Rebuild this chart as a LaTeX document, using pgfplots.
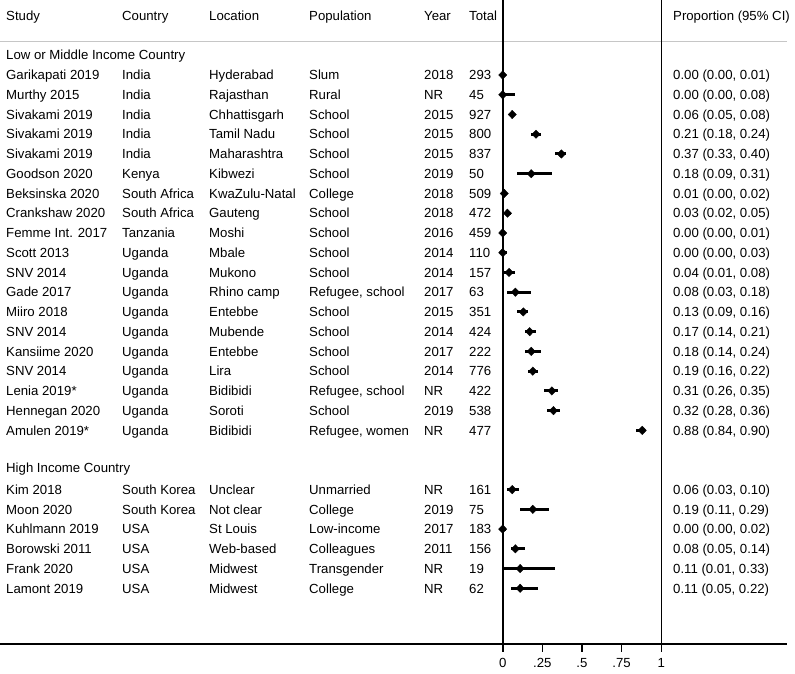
\documentclass[border=0pt]{standalone}
\usepackage{fontspec}
\setmainfont{Liberation Sans}
\usepackage{pgfplots}
\usepackage{pgfplotstable}
\pgfplotsset{compat=1.18}

% estimate, lower, upper, row (row = minus line index)
\pgfplotstableread{
est  lo   hi   row
0.00 0.00 0.01 0
0.00 0.00 0.08 -1
0.06 0.05 0.08 -2
0.21 0.18 0.24 -3
0.37 0.33 0.40 -4
0.18 0.09 0.31 -5
0.01 0.00 0.02 -6
0.03 0.02 0.05 -7
0.00 0.00 0.01 -8
0.00 0.00 0.03 -9
0.04 0.01 0.08 -10
0.08 0.03 0.18 -11
0.13 0.09 0.16 -12
0.17 0.14 0.21 -13
0.18 0.14 0.24 -14
0.19 0.16 0.22 -15
0.31 0.26 0.35 -16
0.32 0.28 0.36 -17
0.88 0.84 0.90 -18
}\lmic

\pgfplotstableread{
est  lo   hi   row
0.06 0.03 0.10 -21
0.19 0.11 0.29 -22
0.00 0.00 0.02 -23
0.08 0.05 0.14 -24
0.11 0.01 0.33 -25
0.11 0.05 0.22 -26
}\hic

\newcommand{\fs}{\fontsize{13.2}{15}\selectfont}

\begin{document}
\begin{tikzpicture}[cell/.style={anchor=west, font=\fs, text height=9.45pt, text depth=0pt, inner sep=0pt}]
\useasboundingbox (0,-30pt) rectangle (795pt,644pt);

% header rule
\draw[gray!45, line width=1.6pt] (0,602.5pt) -- (786.7pt,602.5pt);

\begin{axis}[
	at={(0,0)}, anchor=south west,
	scale only axis,
	width=786.7pt, height=644pt,
	xmin=-3.170, xmax=1.791,
	ymin=-28.82, ymax=3.80,
	axis x line*=bottom,
	axis y line=none,
	x axis line style={line width=1.6pt, -},
	xtick={0,0.25,0.5,0.75,1},
	xticklabels={0,.25,.5,.75,1},
	xticklabel style={font=\fs, yshift=-11pt},
	major tick length=0pt,
	clip=false]

	\addplot[only marks, black, mark=diamond*, mark size=4.2pt,
		mark options={xscale=1.3},
		error bars/.cd, x dir=both, x explicit, error mark=none,
		error bar style={line width=3pt, black}]
		table[x=est, y=row,
			x error plus expr=\thisrow{hi}-\thisrow{est},
			x error minus expr=\thisrow{est}-\thisrow{lo}] {\lmic};

	\addplot[only marks, black, mark=diamond*, mark size=4.2pt,
		mark options={xscale=1.3},
		error bars/.cd, x dir=both, x explicit, error mark=none,
		error bar style={line width=3pt, black}]
		table[x=est, y=row,
			x error plus expr=\thisrow{hi}-\thisrow{est},
			x error minus expr=\thisrow{est}-\thisrow{lo}] {\hic};
\end{axis}

% reference lines at 0 and 1, running down into the tick marks
\draw[line width=1.6pt, black] (502.7pt,-8pt) -- (502.7pt,644pt);
\draw[line width=1.6pt, black] (661.3pt,-8pt) -- (661.3pt,644pt);

% tick marks below the axis line (x = 0 sits at 502.7pt, 158.58pt per unit)
\foreach \tx in {542.35,581.99,621.64}{
	\draw[line width=1.6pt, black] (\tx pt,0.8pt) -- (\tx pt,-8pt);
}

% column headers
\node[cell] at (6pt,628pt) {Study};
\node[cell] at (122pt,628pt) {Country};
\node[cell] at (209pt,628pt) {Location};
\node[cell] at (309pt,628pt) {Population};
\node[cell] at (424pt,628pt) {Year};
\node[cell] at (469pt,628pt) {Total};
\node[cell] at (673pt,628pt) {Proportion (95\% CI)};

% subgroup headings
\node[cell] at (6pt,589pt) {Low or Middle Income Country};
\node[cell] at (6pt,176.7pt) {High Income Country};

% study rows
\foreach \k/\st/\co/\lo/\po/\yr/\to/\ci in {
	0/Garikapati 2019/India/Hyderabad/Slum/2018/293/{0.00 (0.00, 0.01)},
	1/Murthy 2015/India/Rajasthan/Rural/NR/45/{0.00 (0.00, 0.08)},
	2/Sivakami 2019/India/Chhattisgarh/School/2015/927/{0.06 (0.05, 0.08)},
	3/Sivakami 2019/India/Tamil Nadu/School/2015/800/{0.21 (0.18, 0.24)},
	4/Sivakami 2019/India/Maharashtra/School/2015/837/{0.37 (0.33, 0.40)},
	5/Goodson 2020/Kenya/Kibwezi/School/2019/50/{0.18 (0.09, 0.31)},
	6/Beksinska 2020/South Africa/KwaZulu-Natal/College/2018/509/{0.01 (0.00, 0.02)},
	7/Crankshaw 2020/South Africa/Gauteng/School/2018/472/{0.03 (0.02, 0.05)},
	8/Femme Int. 2017/Tanzania/Moshi/School/2016/459/{0.00 (0.00, 0.01)},
	9/Scott 2013/Uganda/Mbale/School/2014/110/{0.00 (0.00, 0.03)},
	10/SNV 2014/Uganda/Mukono/School/2014/157/{0.04 (0.01, 0.08)},
	11/Gade 2017/Uganda/Rhino camp/{Refugee, school}/2017/63/{0.08 (0.03, 0.18)},
	12/Miiro 2018/Uganda/Entebbe/School/2015/351/{0.13 (0.09, 0.16)},
	13/SNV 2014/Uganda/Mubende/School/2014/424/{0.17 (0.14, 0.21)},
	14/Kansiime 2020/Uganda/Entebbe/School/2017/222/{0.18 (0.14, 0.24)},
	15/SNV 2014/Uganda/Lira/School/2014/776/{0.19 (0.16, 0.22)},
	16/Lenia 2019*/Uganda/Bidibidi/{Refugee, school}/NR/422/{0.31 (0.26, 0.35)},
	17/Hennegan 2020/Uganda/Soroti/School/2019/538/{0.32 (0.28, 0.36)},
	18/Amulen 2019*/Uganda/Bidibidi/{Refugee, women}/NR/477/{0.88 (0.84, 0.90)},
	21/Kim 2018/South Korea/Unclear/Unmarried/NR/161/{0.06 (0.03, 0.10)},
	22/Moon 2020/South Korea/Not clear/College/2019/75/{0.19 (0.11, 0.29)},
	23/Kuhlmann 2019/USA/St Louis/Low-income/2017/183/{0.00 (0.00, 0.02)},
	24/Borowski 2011/USA/Web-based/Colleagues/2011/156/{0.08 (0.05, 0.14)},
	25/Frank 2020/USA/Midwest/Transgender/NR/19/{0.11 (0.01, 0.33)},
	26/Lamont 2019/USA/Midwest/College/NR/62/{0.11 (0.05, 0.22)}}{
	\pgfmathsetmacro{\yy}{569-19.742*\k}
	\node[cell] at (6pt,\yy pt) {\st};
	\node[cell] at (122pt,\yy pt) {\co};
	\node[cell] at (209pt,\yy pt) {\lo};
	\node[cell] at (309pt,\yy pt) {\po};
	\node[cell] at (424pt,\yy pt) {\yr};
	\node[cell] at (469pt,\yy pt) {\to};
	\node[cell] at (673pt,\yy pt) {\ci};
}
\end{tikzpicture}
\end{document}
